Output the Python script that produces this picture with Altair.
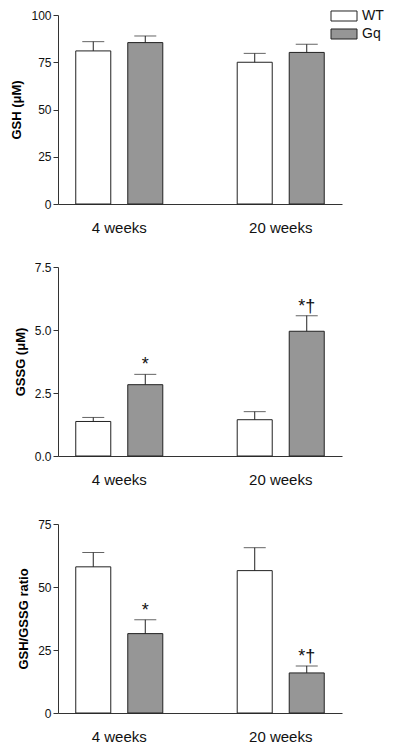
import altair as alt
import pandas as pd

categories = ["4 weeks", "20 weeks"]
groups = ["WT", "Gq"]
gsh_mean = [81.0, 85.4, 75.0, 80.2]
gsh_sem = [4.9, 3.5, 4.7, 4.3]
gssg_mean = [1.37, 2.83, 1.44, 4.95]
gssg_sem = [0.16, 0.41, 0.32, 0.62]
ratio_mean = [58.0, 31.5, 56.5, 15.9]
ratio_sem = [5.7, 5.5, 9.1, 2.8]
gsh_marks = ["", "", "", ""]
gssg_marks = ["", "*", "", "*†"]
ratio_marks = ["", "*", "", "*†"]

cat_col = [c for c in categories for g in groups]
grp_col = [g for c in categories for g in groups]

FONT = "Liberation Sans"
DARK = "#333333"


def panel(mean, sem, marks, title, ticks, fmt, ymax, show_legend):
    df = pd.DataFrame({
        "cat": cat_col,
        "grp": grp_col,
        "mean": mean,
        "top": [m + s for m, s in zip(mean, sem)],
        "mark": marks,
    })
    x = alt.X("cat:N", sort=categories,
              scale=alt.Scale(paddingInner=0.461, paddingOuter=0.11),
              axis=alt.Axis(title=None, ticks=False, labelAngle=0, labelFontSize=15,
                            labelPadding=16, domainColor=DARK, labelColor="#111",
                            labelFont=FONT))
    xo = alt.XOffset("grp:N", sort=groups,
                     scale=alt.Scale(paddingInner=0.327, paddingOuter=0))
    y = alt.Y("mean:Q", scale=alt.Scale(domain=[0, ymax], nice=False),
              axis=alt.Axis(title=title, values=ticks, format=fmt, grid=False,
                            tickSize=5, tickColor=DARK, domainColor=DARK,
                            labelFontSize=12, labelFont=FONT, labelColor="#111",
                            labelPadding=2, titleFont=FONT, titleFontSize=13,
                            titleFontWeight="bold", titleColor="#000",
                            titlePadding=7))
    if show_legend:
        leg = alt.Legend(title=None, orient="none", legendX=279, legendY=-6,
                         symbolType="M-2,-0.77H2V0.77H-2Z", symbolSize=169,
                         symbolStrokeColor="#222", symbolStrokeWidth=1,
                         labelFontSize=14, labelFont=FONT, labelColor="#111",
                         labelOffset=11, rowPadding=2)
        fill = alt.Fill("grp:N", sort=groups,
                        scale=alt.Scale(domain=groups, range=["#ffffff", "#969696"]),
                        legend=leg)
    else:
        fill = alt.Fill("grp:N", sort=groups,
                        scale=alt.Scale(domain=groups, range=["#ffffff", "#969696"]),
                        legend=None)
    base = alt.Chart(df)
    bars = base.mark_bar(stroke="#222", strokeWidth=1).encode(
        x=x, xOffset=xo, y=y, fill=fill)
    rule = base.mark_rule(color="#222", strokeWidth=1).encode(
        x=x, xOffset=xo, y="mean:Q", y2="top:Q")
    cap = base.mark_tick(color="#222", size=22, thickness=1).encode(
        x=x, xOffset=xo, y="top:Q")
    txt = base.mark_text(font=FONT, fontSize=18, baseline="bottom", dy=0,
                         color="#111").encode(
        x=x, xOffset=xo, y="top:Q", text="mark:N")
    return alt.layer(bars, rule, cap, txt).properties(width=284, height=189)


p1 = panel(gsh_mean, gsh_sem, gsh_marks, "GSH (μM)", [0, 25, 50, 75, 100], "d", 100, True)
p2 = panel(gssg_mean, gssg_sem, gssg_marks, "GSSG (μM)", [0, 2.5, 5.0, 7.5], ".1f", 7.5, False)
p3 = panel(ratio_mean, ratio_sem, ratio_marks, "GSH/GSSG ratio", [0, 25, 50, 75], "d", 75, False)

top = alt.vconcat(p1, p2, spacing=26).resolve_scale(fill="independent")
chart = alt.vconcat(top, p3, spacing=31).resolve_scale(fill="independent").properties(
    padding={"left": 2, "top": 1, "right": 2, "bottom": 0}
).configure_view(stroke=None)

chart.save("out.html", embed_options={"renderer": "svg", "actions": False})
